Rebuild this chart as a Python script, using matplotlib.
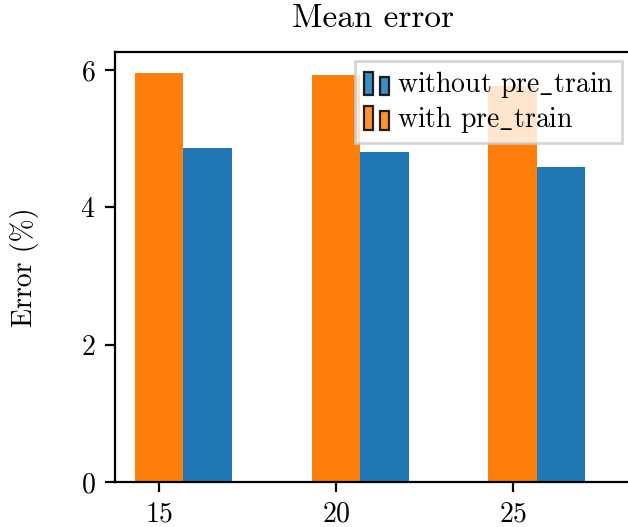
import matplotlib
matplotlib.use("Agg")
from matplotlib import pyplot as plt
from matplotlib.legend_handler import HandlerBase
from matplotlib.patches import Rectangle
import numpy as np

plt.rcParams['font.family'] = ['cmr10', 'DejaVu Serif']
plt.rcParams['mathtext.fontset'] = 'cm'
plt.rcParams['axes.formatter.use_mathtext'] = True
plt.rcParams['font.size'] = 10

steps = np.array([15, 20, 25])
with_pre_train = [5.95, 5.92, 5.76]
without_pre_train = [4.86, 4.80, 4.585]
labels = ['without pre_train', 'with pre_train']
colors = ['#1f77b4', '#ff7f0e']
width = 1.37


class TwoBoxHandler(HandlerBase):
    # two little boxes per legend entry
    def create_artists(self, legend, orig_handle, xdescent, ydescent,
                       width, height, fontsize, trans):
        c = orig_handle.get_facecolor()
        bw = width * 0.36
        y0 = -ydescent - 0.15 * height
        tall = Rectangle((-xdescent, y0), bw, height * 1.22,
                         facecolor=c, edgecolor='black', lw=0.8, alpha=0.85,
                         transform=trans)
        short = Rectangle((-xdescent + width - bw, y0), bw, height * 0.94,
                          facecolor=c, edgecolor='black', lw=0.8, alpha=0.85,
                          transform=trans)
        return [tall, short]


fig = plt.figure(figsize=(3.14, 2.635), dpi=200)
right_px = 631
ax = fig.add_axes([115 / 628, 45 / 527, (right_px - 115) / 628, 430 / 527])

b_with = ax.bar(steps, with_pre_train, width, color=colors[1])
b_without = ax.bar(steps + width, without_pre_train, width, color=colors[0])

ax.set_xlim(13.756, 13.756 + (right_px - 115) / 35.37)
ax.set_ylim(0, 6.26)
ax.set_xticks(steps)
ax.set_yticks([0, 2, 4, 6])
ax.spines['right'].set_visible(False)

ax.set_title('Mean error', pad=9)
ax.set_ylabel('Error (%)', labelpad=15)

h1 = Rectangle((0, 0), 1, 1, facecolor=colors[0])
h2 = Rectangle((0, 0), 1, 1, facecolor=colors[1])
ax.legend([h1, h2], [r'without pre$\_$train', r'with pre$\_$train'],
          handler_map={Rectangle: TwoBoxHandler()},
          loc='upper right', bbox_to_anchor=(622 / 628, 1 - 61 / 527),
          bbox_transform=fig.transFigure, borderaxespad=0,
          fancybox=False, framealpha=0.8, handlelength=0.9,
          handletextpad=0.3, borderpad=0.3, labelspacing=0.12)

fig.savefig('out.png', dpi=200)
